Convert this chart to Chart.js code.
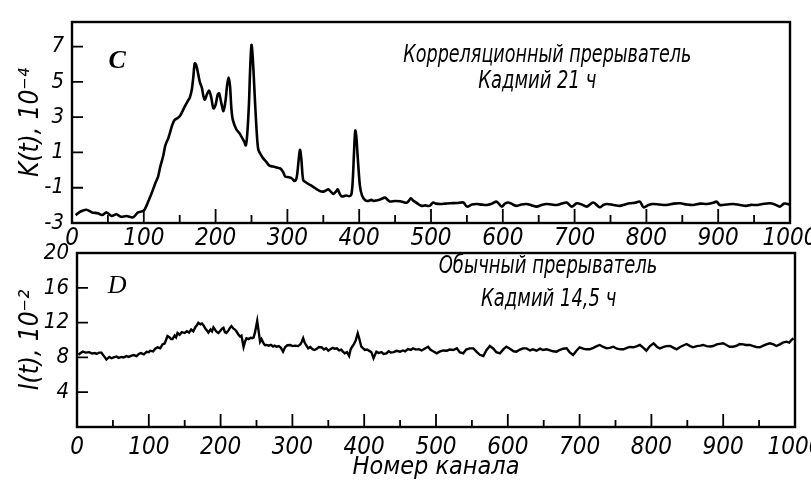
<!DOCTYPE html>
<html>
<head>
<meta charset="utf-8">
<script src="https://cdn.jsdelivr.net/npm/chart.js@4.4.1/dist/chart.umd.min.js"></script>
<style>
html, body { margin: 0; padding: 0; background: #fff; }
#wrap { position: relative; width: 811px; height: 482px; }
.box { position: absolute; left: 0; width: 811px; }
</style>
</head>
<body>
<div id="wrap">
  <div class="box" style="top:0;height:255px"><canvas id="chartK"></canvas></div>
  <div class="box" style="top:240px;height:242px"><canvas id="chartI"></canvas></div>
</div>
<script>
// channel axis ticks (shared by both panels)
var channelTicks = [0, 100, 200, 300, 400, 500, 600, 700, 800, 900, 1000];
var channelMinor = [50, 150, 250, 350, 450, 550, 650, 750, 850, 950];

// panel C: correlation chopper, K(t) x 1e-4
var kTicks = [-3, -1, 1, 3, 5, 7];
var kChannels = [5, 12, 20, 28, 36, 42, 48, 55, 62, 68, 76, 85, 92, 100, 106, 111, 116, 120, 123, 127,
  130, 134, 137, 140, 143, 147, 150, 154, 157, 161, 164, 167, 169, 171, 173, 176, 178, 181, 183, 185,
  188, 191, 194, 197, 200, 203, 205, 208, 211, 214, 216, 218, 220, 222, 224, 229, 233, 236, 240, 242,
  244, 246.5, 248, 250, 252, 255, 257.5, 259.5, 262, 266, 271, 275, 280, 285, 290, 294, 297, 302, 306, 310,
  313, 315, 317.5, 319.5, 322, 326, 331.5, 336, 341, 346, 350, 354, 357, 361, 364, 368, 370, 373, 376, 382,
  386, 389, 391, 393, 394.5, 396, 398, 401, 404, 408, 412, 417, 420, 424, 430, 436, 440, 443, 450, 457,
  462, 466, 469, 472, 475, 478, 483, 487, 492, 498, 503, 507, 513, 520, 527, 536, 545, 550, 557, 564,
  571, 578, 585, 591.5, 598.5, 603, 608, 614, 619, 626, 633, 640, 647, 654, 661, 668, 675, 682, 689, 696,
  703, 710, 717, 726, 735, 740, 745, 754, 763, 770, 777, 784, 791, 796, 803, 809, 818, 828, 838, 847,
  856, 865, 875, 884, 893, 898, 902, 912, 921, 930, 939, 946, 953, 962, 972, 979, 986, 992, 997, 1000];
var kValues = [-2.55, -2.35, -2.25, -2.4, -2.45, -2.55, -2.4, -2.6, -2.5, -2.65, -2.6, -2.68, -2.4, -2.3, -1.8, -1.3, -0.75, -0.35, 0.2, 0.8,
  1.4, 1.8, 2.2, 2.6, 2.85, 2.95, 3.05, 3.35, 3.6, 3.9, 4.1, 4.6, 5.3, 6.05, 5.95, 5.4, 5.0, 4.65, 4.2, 4.0,
  4.3, 4.5, 4.1, 3.5, 3.7, 4.3, 4.35, 3.8, 3.35, 4.0, 4.8, 5.25, 4.8, 3.5, 2.85, 2.3, 2.1, 1.9, 1.6, 1.4,
  2.0, 3.8, 5.6, 7.1, 6.2, 3.8, 2.0, 1.15, 0.95, 0.68, 0.45, 0.25, 0.2, 0.15, 0.1, -0.1, -0.37, -0.4, -0.46, -0.62,
  -0.4, 0.3, 1.15, 0.6, -0.56, -0.7, -0.84, -0.95, -1.09, -1.2, -1.22, -1.15, -1.09, -1.25, -1.35, -1.2, -1.09, -1.35, -1.5, -1.44,
  -1.48, -1.4, -0.6, 1.2, 2.24, 1.9, 0.7, -0.9, -1.45, -1.7, -1.75, -1.69, -1.75, -1.72, -1.65, -1.56, -1.7, -1.78, -1.75, -1.77,
  -1.82, -1.85, -1.75, -1.6, -1.72, -1.8, -1.95, -2.03, -2.0, -2.03, -1.84, -1.9, -1.92, -1.9, -1.88, -1.87, -1.84, -2.07, -1.95, -1.92,
  -1.96, -1.98, -1.9, -1.79, -2.07, -1.9, -1.84, -1.95, -2.03, -1.95, -1.92, -2.0, -2.07, -1.98, -1.92, -1.95, -1.98, -1.9, -1.84, -2.07,
  -1.88, -1.95, -2.07, -1.84, -2.11, -1.98, -1.92, -1.98, -2.03, -1.95, -1.88, -1.85, -1.79, -2.11, -1.98, -1.92, -1.95, -1.98, -1.9, -1.88,
  -1.95, -1.98, -1.9, -1.92, -1.85, -1.79, -1.98, -1.95, -1.92, -1.98, -2.03, -1.97, -1.98, -1.92, -1.88, -1.95, -2.07, -1.9, -1.92, -1.98];

// panel D: ordinary chopper, I(t) x 1e-2
var iTicks = [4, 8, 12, 16, 20];
var iChannels = [2, 5, 8, 12, 17, 21, 25, 27, 31, 34, 37, 41, 45, 48, 51, 55, 58, 62, 65, 69,
  72, 76, 79, 83, 86, 89, 93, 97, 100, 102, 106, 109, 112, 116, 119, 122, 124, 126, 129, 131,
  133, 136, 138, 140, 143, 146, 150, 153, 156, 159, 162, 165, 167, 169, 172, 174, 176, 179, 181, 183,
  186, 188, 190, 193, 195, 197, 200, 202, 204, 206, 208, 211, 213, 215, 218, 220, 222, 225, 227, 229,
  232, 234, 236, 239, 242, 244, 246, 248, 251, 253, 255, 257, 260, 262, 264, 267, 270, 273, 275, 278,
  281, 284, 287, 290, 293, 297, 300, 304, 308, 311, 313, 315, 317, 320, 322, 325, 328, 331, 334, 337,
  341, 344, 347, 350, 353, 356, 359, 362, 365, 368, 370, 373, 376, 379, 381, 383, 385, 388, 391, 393,
  396, 399, 401, 404, 407, 410, 413, 415, 417, 420, 424, 427, 431, 434, 437, 441, 445, 450, 454, 457,
  461, 465, 468, 472, 476, 480, 484, 489, 492, 496, 501, 505, 510, 515, 519, 524, 529, 533, 538, 542,
  547, 552, 557, 561, 566, 570, 575, 580, 584, 589, 594, 598, 603, 608, 612, 617, 621, 626, 631, 635,
  640, 645, 649, 654, 659, 663, 668, 672, 677, 682, 686, 691, 695, 700, 705, 709, 714, 719, 724, 728,
  733, 738, 742, 747, 752, 757, 761, 766, 770, 775, 780, 784, 789, 793, 798, 803, 808, 812, 817, 821,
  826, 831, 835, 840, 845, 849, 854, 858, 863, 868, 872, 877, 882, 886, 891, 895, 900, 905, 909, 914,
  919, 923, 928, 932, 937, 942, 946, 951, 956, 960, 965, 970, 974, 979, 983, 988, 992, 995, 998];
var iValues = [8.3, 8.5, 8.66, 8.55, 8.6, 8.45, 8.5, 8.4, 8.55, 8.55, 8.2, 7.75, 8.05, 7.9, 8.0, 8.1, 7.95, 8.05, 8.0, 8.15,
  8.05, 8.2, 8.27, 8.15, 8.4, 8.5, 8.35, 8.65, 8.6, 8.77, 8.7, 9.0, 9.15, 9.05, 9.5, 9.6, 10.0, 10.46, 10.3, 10.1,
  10.1, 10.5, 10.3, 10.8, 10.6, 10.9, 10.8, 11.0, 10.85, 11.2, 11.0, 11.5, 11.7, 11.99, 11.8, 11.9, 11.7, 11.3, 11.1, 10.85,
  11.2, 11.0, 11.45, 11.1, 10.9, 10.8, 11.1, 11.3, 11.4, 10.9, 10.8, 11.1, 11.4, 11.6, 11.3, 11.2, 11.0, 10.6, 10.4, 10.5,
  9.2, 9.8, 10.2, 10.1, 10.25, 10.2, 10.3, 10.9, 12.2, 11.0, 9.8, 10.1, 9.6, 9.4, 9.43, 9.35, 9.45, 9.25, 9.35, 9.23,
  9.3, 9.1, 8.66, 9.2, 9.4, 9.43, 9.3, 9.35, 9.3, 9.5, 9.8, 10.2, 9.7, 9.3, 9.04, 9.2, 8.95, 8.85, 9.0, 9.2,
  9.15, 8.9, 9.05, 8.77, 8.95, 9.1, 9.0, 9.04, 8.8, 8.9, 8.7, 8.47, 8.6, 8.16, 8.9, 9.2, 9.43, 9.9, 10.77, 10.2,
  9.23, 9.0, 8.85, 8.9, 8.75, 8.6, 7.9, 8.3, 8.66, 8.5, 8.6, 8.4, 8.47, 8.7, 8.55, 8.6, 8.75, 8.66, 8.8, 8.7,
  8.95, 8.85, 9.04, 8.9, 8.95, 8.8, 9.0, 9.23, 8.9, 8.7, 8.47, 8.66, 8.8, 8.77, 8.9, 8.85, 9.04, 8.6, 8.47, 8.9,
  9.04, 9.04, 8.6, 8.3, 8.16, 8.8, 9.31, 9.0, 8.6, 8.47, 8.95, 9.23, 9.0, 8.7, 8.66, 8.9, 9.04, 9.04, 8.8, 8.93,
  8.77, 9.0, 8.85, 8.93, 8.8, 8.7, 8.66, 8.85, 9.0, 9.04, 8.6, 8.28, 8.7, 9.16, 9.0, 8.93, 8.93, 9.1, 9.3, 9.43,
  9.2, 9.04, 9.1, 9.23, 9.0, 8.93, 8.93, 9.1, 9.2, 9.16, 9.3, 9.43, 9.1, 8.77, 9.3, 9.62, 9.2, 9.04, 9.2, 9.3,
  9.31, 9.1, 8.93, 9.2, 9.4, 9.54, 9.3, 9.16, 9.3, 9.35, 9.43, 9.3, 9.25, 9.31, 9.5, 9.55, 9.62, 9.4, 9.23, 9.23,
  9.35, 9.54, 9.5, 9.43, 9.43, 9.3, 9.2, 9.16, 9.35, 9.5, 9.62, 9.5, 9.31, 9.5, 9.7, 9.81, 9.7, 10.0, 10.2];

var FONT = "'DejaVu Sans Condensed', 'DejaVu Sans', sans-serif";
var tickFont = { family: FONT, size: 24, style: 'italic' };

function toPoints(xs, ys) {
  return xs.map(function (x, i) { return { x: x, y: ys[i] }; });
}

// box around the plot plus inward tick marks, like on the printed figure
function framePlugin(st) {
  return {
    id: 'frame',
    afterDatasetsDraw: function (chart) {
      var ctx = chart.ctx, a = chart.chartArea, xs = chart.scales.x, ys = chart.scales.y;
      ctx.save();
      ctx.strokeStyle = '#000';
      ctx.lineWidth = st.width;
      ctx.strokeRect(a.left, a.top, a.right - a.left, a.bottom - a.top);
      ctx.lineWidth = 1.8;
      ctx.beginPath();
      channelTicks.forEach(function (v) {
        var px = xs.getPixelForValue(v);
        ctx.moveTo(px, a.bottom); ctx.lineTo(px, a.bottom - st.major);
      });
      channelMinor.forEach(function (v) {
        var px = xs.getPixelForValue(v);
        ctx.moveTo(px, a.bottom); ctx.lineTo(px, a.bottom - st.minor);
      });
      st.yTicks.forEach(function (v) {
        var py = ys.getPixelForValue(v);
        ctx.moveTo(a.left, py); ctx.lineTo(a.left + st.ytick, py);
      });
      ctx.stroke();
      ctx.restore();
    }
  };
}

// free text inside the plot, squeezed horizontally like the drafting lettering
function notesPlugin(items) {
  return {
    id: 'notes',
    afterDraw: function (chart) {
      var ctx = chart.ctx, xs = chart.scales.x, ys = chart.scales.y;
      items.forEach(function (it) {
        ctx.save();
        ctx.fillStyle = '#000';
        ctx.textAlign = 'center';
        ctx.textBaseline = 'middle';
        ctx.font = it.font;
        ctx.translate(xs.getPixelForValue(it.x), ys.getPixelForValue(it.y));
        ctx.scale(it.sx, 1);
        ctx.fillText(it.text, 0, 0);
        ctx.restore();
      });
    }
  };
}

function makeChart(id, cfg) {
  return new Chart(document.getElementById(id), {
    type: 'line',
    data: {
      datasets: [{
        data: toPoints(cfg.xs, cfg.ys),
        borderColor: '#000',
        borderWidth: cfg.lineWidth,
        pointRadius: 0,
        tension: cfg.tension,
        fill: false
      }]
    },
    options: {
      responsive: true,
      maintainAspectRatio: false,
      animation: false,
      layout: { padding: cfg.padding },
      plugins: {
        legend: { display: false },
        tooltip: { enabled: false }
      },
      scales: {
        x: {
          type: 'linear', min: 0, max: 1000,
          afterBuildTicks: function (s) { s.ticks = channelTicks.map(function (v) { return { value: v }; }); },
          afterFit: function (s) { s.height = cfg.xHeight; s.paddingLeft = 0; s.paddingRight = 0; },
          grid: { display: false, drawTicks: false },
          border: { display: false },
          ticks: {
            padding: cfg.xPad, color: '#000', font: tickFont, maxRotation: 0, autoSkip: false,
            callback: function (v) { return String(v); }
          },
          title: cfg.xTitle
        },
        y: {
          type: 'linear', min: cfg.yMin, max: cfg.yMax,
          afterBuildTicks: function (s) { s.ticks = cfg.yTicks.map(function (v) { return { value: v }; }); },
          afterFit: function (s) { s.width = cfg.yWidth; s.paddingTop = 0; s.paddingBottom = 0; },
          grid: { display: false, drawTicks: false },
          border: { display: false },
          ticks: {
            padding: 8, color: '#000', font: { family: FONT, size: 22, style: 'italic' },
            callback: function (v) { return String(v); }
          },
          title: {
            display: true, text: cfg.yTitle, color: '#000',
            font: { family: FONT, size: 26, style: 'italic' },
            padding: { top: 16, bottom: 0 }
          }
        }
      }
    },
    plugins: [framePlugin(cfg.frame), notesPlugin(cfg.notes)]
  });
}

var noteFont = "italic 25px " + FONT;

makeChart('chartK', {
  xs: kChannels, ys: kValues, lineWidth: 2.6, tension: 0.3,
  padding: { left: 0, right: 21, top: 22, bottom: 0 },
  xHeight: 32, xPad: 1, yWidth: 72,
  yMin: -3, yMax: 8.4, yTicks: kTicks,
  yTitle: 'K(t), 10⁻⁴',
  xTitle: { display: false },
  frame: { width: 2.4, major: 14, minor: 8, ytick: 11, yTicks: [-1, 1, 3, 5, 7] },
  notes: [
    { text: 'C', x: 63, y: 6.2, sx: 1, font: "italic bold 26px 'Liberation Serif', serif" },
    { text: 'Корреляционный прерыватель', x: 662, y: 6.5, sx: 0.78, font: noteFont },
    { text: 'Кадмий 21 ч', x: 648, y: 5.0, sx: 0.8, font: noteFont }
  ]
});

makeChart('chartI', {
  xs: iChannels, ys: iValues, lineWidth: 2.4, tension: 0,
  padding: { left: 0, right: 16, top: 13, bottom: 0 },
  xHeight: 55, xPad: 6, yWidth: 77,
  yMin: 0, yMax: 20, yTicks: iTicks,
  yTitle: 'I(t), 10⁻²',
  xTitle: {
    display: true, text: 'Номер канала', color: '#000',
    font: { family: FONT, size: 25, style: 'italic' },
    padding: { top: 0, bottom: 0 }
  },
  frame: { width: 2.4, major: 13, minor: 7, ytick: 11, yTicks: [4, 8, 12, 16] },
  notes: [
    { text: 'D', x: 56, y: 16.2, sx: 1, font: "italic 26px 'Liberation Serif', serif" },
    { text: 'Обычный прерыватель', x: 656, y: 18.4, sx: 0.8, font: noteFont },
    { text: 'Кадмий 14,5 ч', x: 657, y: 14.7, sx: 0.8, font: noteFont }
  ]
});
</script>
</body>
</html>
